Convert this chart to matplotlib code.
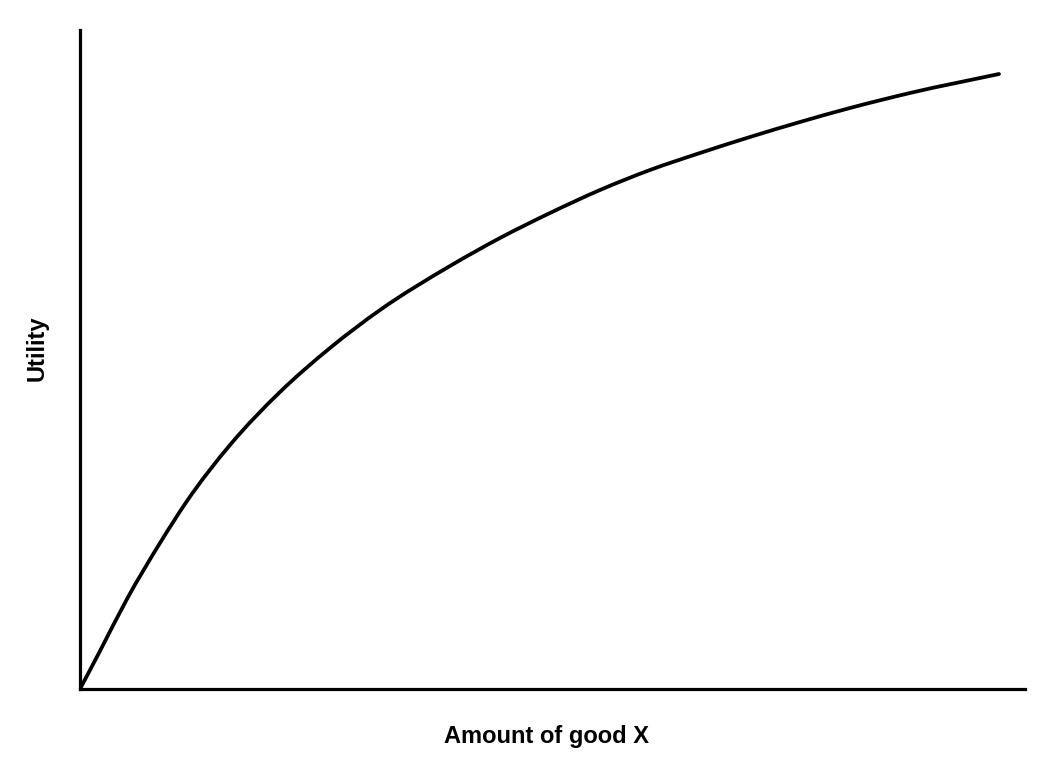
import numpy as np
import matplotlib.pyplot as plt
from matplotlib.path import Path
from matplotlib.patches import PathPatch

plt.rcParams['font.family'] = ['Liberation Sans', 'DejaVu Sans']

# amount of good X and the utility it gives (arbitrary units)
amount = [0, 20, 47, 80, 107, 150, 200, 250, 300, 370, 420, 470, 520,
          570, 620, 670, 720, 770, 830, 919]
utility = [0, 38, 90, 146, 188, 244, 297, 341, 379, 423, 451, 476, 499,
           519, 536, 552, 567, 581, 596, 615]


def smooth_path(xs, ys):
    # cubic hermite through the points (y as a function of x), as bezier segments
    x = np.asarray(xs, float)
    y = np.asarray(ys, float)
    s = np.gradient(y, x)
    verts = [(x[0], y[0])]
    codes = [Path.MOVETO]
    for i in range(len(x) - 1):
        h = x[i + 1] - x[i]
        verts += [(x[i] + h / 3, y[i] + s[i] * h / 3),
                  (x[i + 1] - h / 3, y[i + 1] - s[i + 1] * h / 3),
                  (x[i + 1], y[i + 1])]
        codes += [Path.CURVE4] * 3
    return Path(verts, codes)


fig = plt.figure(figsize=(10.64, 7.73), dpi=100)
ax = fig.add_axes([80 / 1064, 84 / 773, 945 / 1064, 659 / 773])

ax.add_patch(PathPatch(smooth_path(amount, utility), facecolor='none',
                       edgecolor='black', lw=2.7, capstyle='round'))

ax.set_xlim(0, 945)
ax.set_ylim(0, 659)
ax.set_xticks([])
ax.set_yticks([])
for side in ['top', 'right']:
    ax.spines[side].set_visible(False)
for side in ['left', 'bottom']:
    ax.spines[side].set_linewidth(2.3)

fig.text(547 / 1064, 37 / 773, 'Amount of good X', fontsize=17,
         fontweight='bold', ha='center', va='center')
fig.text(37 / 1064, 425 / 773, 'Utility', fontsize=17, fontweight='bold',
         rotation=90, ha='center', va='center')

fig.savefig('out.png', dpi=100)
